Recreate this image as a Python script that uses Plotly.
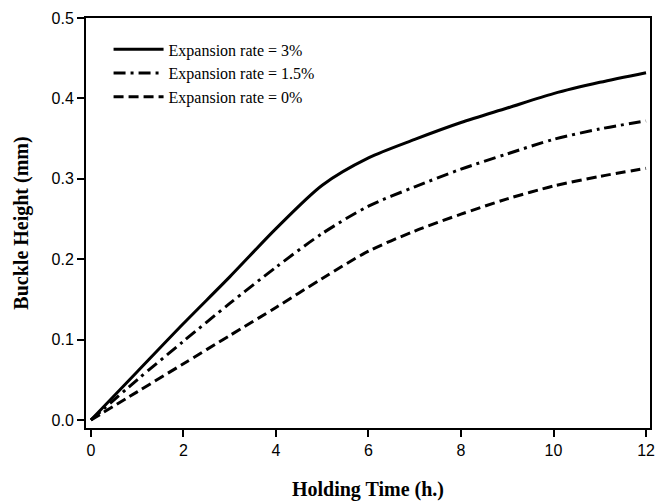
import plotly.graph_objects as go

hours = [0, 1, 2, 3, 4, 5, 6, 7, 8, 9, 10, 11, 12]
rate_3 = [0, 0.06, 0.12, 0.178, 0.238, 0.292, 0.326, 0.349, 0.37, 0.388, 0.406, 0.42, 0.432]
rate_15 = [0, 0.05, 0.098, 0.145, 0.19, 0.232, 0.266, 0.29, 0.312, 0.331, 0.349, 0.362, 0.372]
rate_0 = [0, 0.035, 0.07, 0.105, 0.14, 0.176, 0.21, 0.235, 0.256, 0.275, 0.291, 0.303, 0.313]
names = ["Expansion rate = 3%", "Expansion rate = 1.5%", "Expansion rate = 0%"]
x_ticks = [0, 2, 4, 6, 8, 10, 12]
y_ticks = [0.0, 0.1, 0.2, 0.3, 0.4, 0.5]

fig = go.Figure()
for ys, nm, dash in zip([rate_3, rate_15, rate_0], names,
                        ["solid", "12px,5px,3px,5px", "10px,5px"]):
    fig.add_trace(go.Scatter(x=hours, y=ys, name=nm, mode="lines",
                             line=dict(color="black", width=3, dash=dash, shape="spline", smoothing=0.8)))

axis_common = dict(showline=True, linecolor="black", linewidth=2, mirror=True,
                   ticks="outside", ticklen=7, tickwidth=1.5, tickcolor="black",
                   showgrid=False, zeroline=False,
                   tickfont=dict(family="Liberation Sans, Arial", size=16, color="black"))

fig.update_layout(
    width=659, height=502,
    margin=dict(l=86, r=4, t=18, b=74),
    plot_bgcolor="white", paper_bgcolor="white",
    xaxis=dict(range=[-0.107, 12.086], tickvals=x_ticks, ticktext=[str(v) for v in x_ticks],
               title=dict(text="<b>Holding Time (h.)</b>", standoff=24,
                          font=dict(family="Liberation Serif, Times New Roman", size=20, color="black")),
               **axis_common),
    yaxis=dict(range=[-0.00995, 0.5], tickvals=y_ticks, ticktext=[f"{v:.1f}" for v in y_ticks],
               title=dict(text="<b>Buckle Height (mm)</b>", standoff=18,
                          font=dict(family="Liberation Serif, Times New Roman", size=20, color="black")),
               **axis_common),
    legend=dict(x=0.04, y=0.965, xanchor="left", yanchor="top", bgcolor="rgba(0,0,0,0)",
                font=dict(family="Liberation Serif, Times New Roman", size=16, color="black"),
                tracegroupgap=0, itemwidth=50),
    showlegend=True,
)

fig.write_html("out.html")
